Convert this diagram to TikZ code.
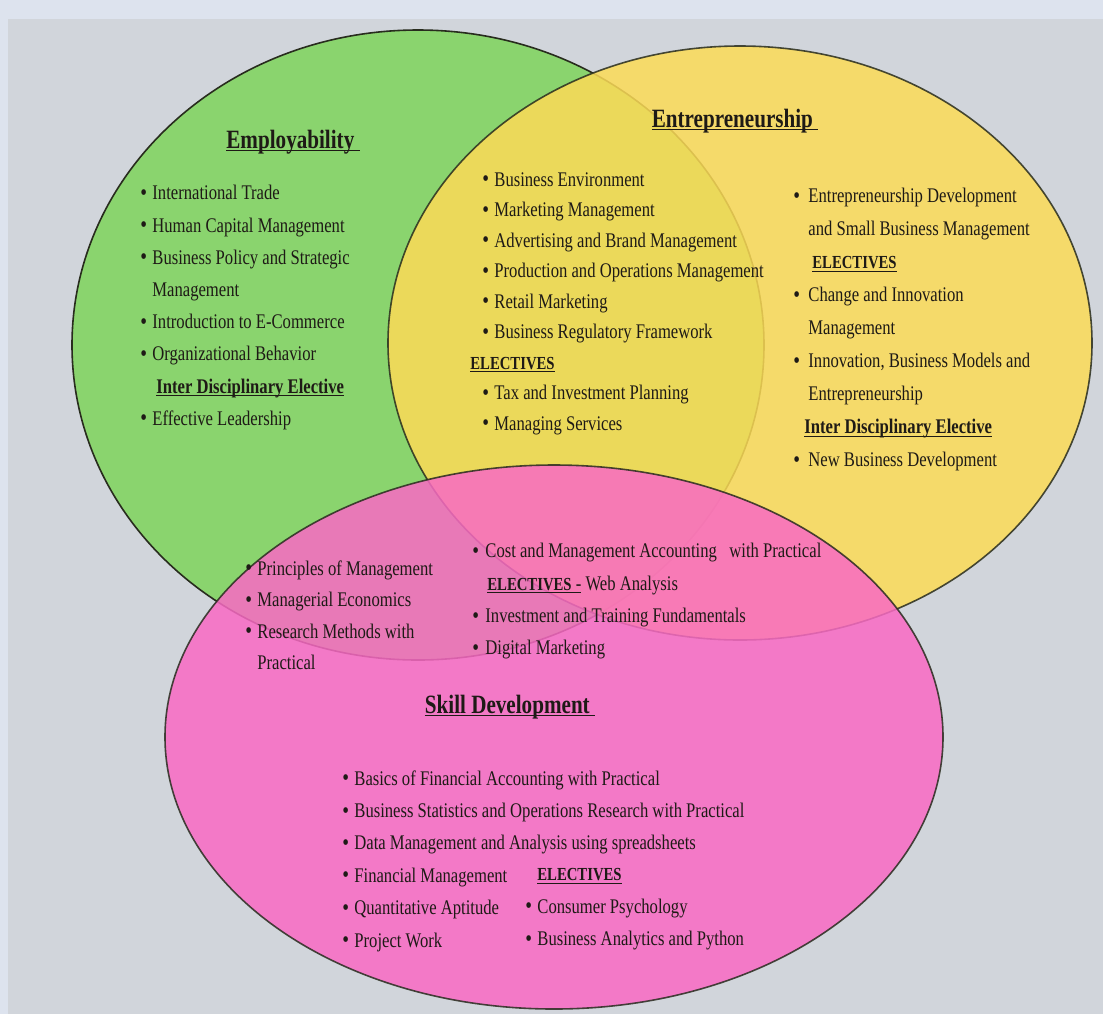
\documentclass[tikz,border=0pt]{standalone}
\usepackage{fontspec}
\setmainfont{Liberation Serif}[FakeStretch=0.8]
\usetikzlibrary{positioning}

\definecolor{empGreen}{RGB}{138,212,110}
\definecolor{entYellow}{RGB}{252,219,87}
\definecolor{sklPink}{RGB}{249,106,196}
\definecolor{panel}{RGB}{209,213,219}
\definecolor{frame}{RGB}{221,227,238}
\definecolor{edge}{RGB}{40,44,30}
\definecolor{ink}{RGB}{30,26,22}

\newsavebox{\ulbox}
\newcommand{\uln}[1]{\sbox{\ulbox}{#1}\rlap{\rule[-1.6pt]{\wd\ulbox}{0.55pt}}\usebox{\ulbox}}
\newcommand{\vitem}[1][6pt]{\makebox[#1][l]{\raisebox{-0.3pt}{\large\textbullet}}}
\newcommand{\hd}[1]{\uln{\textbf{#1}}}
\newcommand{\elect}{{\fontsize{9.2}{10}\selectfont\textbf{ELECTIVES}}}

\begin{document}
\begin{tikzpicture}[
      x=0.5pt, y=-0.5pt,
      every node/.style={
        align=left, inner sep=0pt, text=ink
      },
      venn/.style={draw=edge, line width=0.8pt},
      head/.style={anchor=base, font=\fontsize{13.2}{16}\selectfont\bfseries},
      lst/.style={anchor=north west, font=\fontsize{10.4}{#1}\selectfont}
    ]
    % Background
    \fill[frame] (0,0) rectangle (1103,1014);
    \fill[panel] (8,19) rectangle (1103,1014);
    \useasboundingbox (0,0) rectangle (1103,1014);

    % Circles
    \draw[venn, fill=empGreen] (418,345) ellipse [x radius=173pt, y radius=157.5pt];
    \draw[venn, fill=entYellow, opacity=0.85] (740,343) ellipse [x radius=176pt, y radius=148.5pt];
    \draw[venn, fill=sklPink, opacity=0.85] (554,737) ellipse [x radius=194.5pt, y radius=136pt];

    % Employability
    \node (emp) [head] at (293,148) {\uln{Employability\ }};
    \node (empList) [lst=16.1] at (140,185) {\vitem International Trade\\
      \vitem Human Capital Management\\
      \vitem Business Policy and Strategic\\
      \hspace*{6pt}Management\\
      \vitem Introduction to E-Commerce\\
      \vitem Organizational Behavior\\
      \hspace*{8pt}\hd{Inter Disciplinary Elective}\\
      \vitem Effective Leadership};

    % Employability and Entrepreneurship
    \node (empEnt) [lst=15.25] at (470,172) {\hspace*{6pt}\vitem Business Environment\\
      \hspace*{6pt}\vitem Marketing Management\\
      \hspace*{6pt}\vitem Advertising and Brand Management\\
      \hspace*{6pt}\vitem Production and Operations Management\\
      \hspace*{6pt}\vitem Retail Marketing\\
      \hspace*{6pt}\vitem Business Regulatory Framework\\
      \uln{\elect}\\
      \hspace*{6pt}\vitem Tax and Investment Planning\\
      \hspace*{6pt}\vitem Managing Services};

    % Entrepreneurship
    \node (ent) [head] at (735,127) {\uln{Entrepreneurship\ }};
    \node (entList) [lst=16.5] at (793,188) {\vitem[7.5pt]Entrepreneurship Development\\
      \hspace*{7.5pt}and Small Business Management\\
      \hspace*{9.5pt}\uln{\elect}\\
      \vitem[7.5pt]Change and Innovation\\
      \hspace*{7.5pt}Management\\
      \vitem[7.5pt]Innovation, Business Models and\\
      \hspace*{7.5pt}Entrepreneurship\\
      \hspace*{5.5pt}\hd{Inter Disciplinary Elective}\\
      \vitem[7.5pt]New Business Development};

    % Employability and Skill Development
    \node (empSkl) [lst=15.75] at (245,560) {\vitem Principles of Management\\
      \vitem Managerial Economics\\
      \vitem Research Methods with\\
      \hspace*{6pt}Practical};

    % Entrepreneurship and Skill Development
    \node (entSkl) [lst=16.15] at (472,543) {\vitem[6.5pt]Cost and Management Accounting\ \ \ with Practical\\
      \hspace*{7.5pt}\uln{\elect\ -} Web Analysis\\
      \vitem[6.5pt]Investment and Training Fundamentals\\
      \vitem[6.5pt]Digital Marketing};

    % Skill Development
    \node (skl) [head] at (510,713) {\uln{Skill Development\ }};
    \node (sklList) [lst=16.2] at (342,770) {\vitem Basics of Financial Accounting with Practical\\
      \vitem Business Statistics and Operations Research with Practical\\
      \vitem Data Management and Analysis using spreadsheets\\
      \vitem Financial Management\\
      \vitem Quantitative Aptitude\\
      \vitem Project Work};
    \node (sklElect) [lst=16.2] at (525,868) {\hspace*{6pt}\uln{\elect}\\
      \vitem Consumer Psychology\\
      \vitem Business Analytics and Python};
  \end{tikzpicture}
\end{document}
